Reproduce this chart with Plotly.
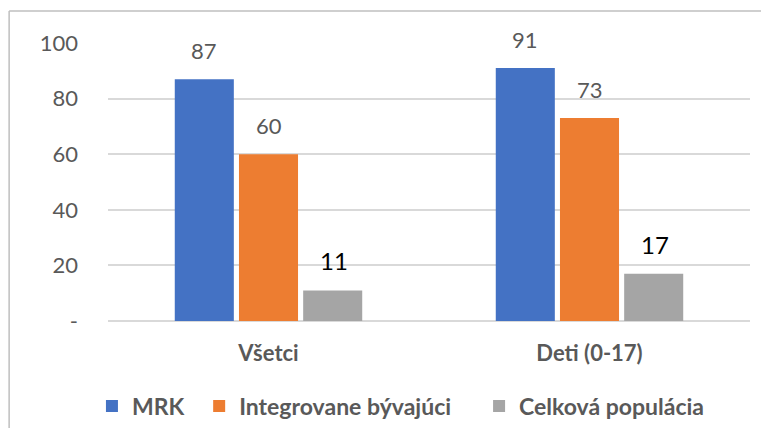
import plotly.graph_objects as go

categories = ["Všetci", "Deti (0-17)"]
series_names = ["MRK", "Integrovane bývajúci", "Celková populácia"]
mrk = [87, 91]
integrovane = [60, 73]
celkova = [11, 17]
tick_vals = [0, 20, 40, 60, 80, 100]
tick_text = ["-", "20", "40", "60", "80", "100"]

colors = ["#4472C4", "#ED7D31", "#A5A5A5"]
label_colors = ["#595959", "#595959", "#000000"]
label_sizes = [22, 22, 24]
shifts = [-65, 0, 65]
legend_ids = ["legend", "legend2", "legend3"]
legend_x = [-0.025, 0.142, 0.578]
FONT = "Lato, Noto Sans, sans-serif"

fig = go.Figure()
all_vals = [mrk, integrovane, celkova]
for name, vals, col, lid in zip(series_names, all_vals, colors, legend_ids):
    fig.add_trace(go.Bar(x=categories, y=vals, name=name, legend=lid,
                         marker=dict(color=col, line=dict(width=0))))

annotations = []
for vals, lc, ls, sh in zip(all_vals, label_colors, label_sizes, shifts):
    for cat, v in zip(categories, vals):
        annotations.append(dict(x=cat, y=v, xref="x", yref="y", text=str(v), showarrow=False,
                                xshift=sh, yshift=13, yanchor="bottom",
                                font=dict(family=FONT, size=ls, color=lc)))

legend_style = dict(orientation="h", xanchor="left", y=-0.306, yanchor="middle",
                    font=dict(family=FONT, size=23, color="#595959", weight="bold"),
                    itemwidth=30, bgcolor="rgba(0,0,0,0)")
legends = {lid: dict(legend_style, x=lx) for lid, lx in zip(legend_ids, legend_x)}

fig.update_layout(
    width=761, height=420,
    margin=dict(l=100, r=19, t=35, b=107, autoexpand=False),
    paper_bgcolor="white", plot_bgcolor="white",
    barmode="group", bargap=0.40, bargroupgap=0.08,
    font=dict(family=FONT, size=21, color="#595959"),
    showlegend=True,
    annotations=annotations,
    shapes=[
        dict(type="line", xref="paper", yref="paper", x0=-0.154, x1=1.1, y0=1.115, y1=1.115,
             line=dict(color="#BFBFBF", width=1.5)),
        dict(type="line", xref="paper", yref="paper", x0=-0.154, x1=-0.154, y0=1.115, y1=-0.5,
             line=dict(color="#BFBFBF", width=1.5)),
    ],
    **legends,
)
fig.update_xaxes(showgrid=False, showline=False, ticks="", automargin=False, ticklabelstandoff=17,
                 tickfont=dict(family=FONT, size=22, color="#595959", weight="bold"))
fig.update_yaxes(range=[0, 100], tickvals=tick_vals, ticktext=tick_text, automargin=False,
                 showgrid=True, gridcolor="#D9D9D9", gridwidth=1.5,
                 zeroline=True, zerolinecolor="#D9D9D9", zerolinewidth=1.5,
                 showline=False, ticks="", ticklabelstandoff=29,
                 tickfont=dict(family=FONT, size=22, color="#595959"))
fig.write_html("out.html")
